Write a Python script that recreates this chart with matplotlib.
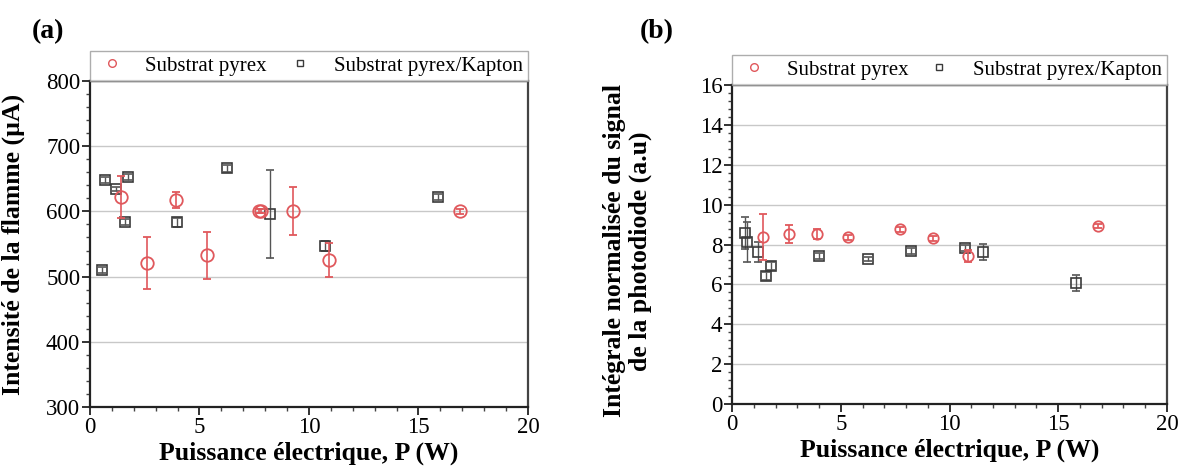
import matplotlib
matplotlib.use('Agg')
import matplotlib.pyplot as plt
from matplotlib.ticker import MultipleLocator
from matplotlib.lines import Line2D

plt.rcParams['font.family'] = ['Liberation Serif', 'DejaVu Serif']

RED = '#e0585c'
DARK = '#3a3a3a'

# (a) intensite de la flamme
pa_red = [1.40, 2.60, 3.93, 5.33, 7.70, 7.82, 9.25, 10.90, 16.90]
ia_red = [622, 521, 617, 533, 601, 601, 601, 526, 600]
ea_red = [32, 40, 12, 36, 3, 3, 37, 26, 4]

pa_blk = [0.56, 0.68, 1.19, 1.60, 1.75, 3.99, 6.24, 8.22, 10.73, 15.87]
ia_blk = [510, 648, 635, 584, 653, 583, 666, 596, 547, 622]
ea_blk = [4, 5, 3, 5, 5, 7, 5, 68, 8, 5]

# (b) integrale normalisee du signal de la photodiode
pb_red = [1.44, 2.61, 3.91, 5.32, 7.74, 9.23, 10.87, 16.81]
vb_red = [8.39, 8.51, 8.51, 8.36, 8.76, 8.31, 7.42, 8.93]
eb_red = [1.15, 0.45, 0.25, 0.12, 0.12, 0.12, 0.3, 0.12]

pb_blk = [0.60, 0.70, 1.21, 1.56, 1.78, 4.00, 6.24, 8.21, 10.71, 11.56, 15.82]
vb_blk = [8.56, 8.11, 7.61, 6.42, 6.92, 7.42, 7.26, 7.69, 7.84, 7.64, 6.08]
eb_blk = [0.8, 1.0, 0.5, 0.2, 0.2, 0.15, 0.1, 0.15, 0.15, 0.4, 0.4]

xlabel = 'Puissance électrique, P (W)'
legend_labels = ['Substrat pyrex', 'Substrat pyrex/Kapton']

fig = plt.figure(figsize=(11.79, 4.66), dpi=100)
ax_a = fig.add_axes([0.0763, 0.1266, 0.3715, 0.6996])
ax_b = fig.add_axes([0.6209, 0.1330, 0.3689, 0.6846])


def style_axes(ax, ylim, ymajor, yminor):
    ax.set_xlim(0, 20)
    ax.set_ylim(*ylim)
    ax.xaxis.set_major_locator(MultipleLocator(5))
    ax.xaxis.set_minor_locator(MultipleLocator(1))
    ax.yaxis.set_major_locator(MultipleLocator(ymajor))
    ax.yaxis.set_minor_locator(MultipleLocator(yminor))
    ax.grid(axis='y', which='major', color='#c8c8c8', lw=1)
    ax.set_axisbelow(True)
    ax.tick_params(which='major', direction='out', length=6, width=1.3,
                   labelsize=16.5, color='#222222', pad=1)
    ax.tick_params(which='minor', direction='out', length=3, width=1.0,
                   color='#444444')
    ax.tick_params(top=False, right=False, which='both')
    for s in ['left', 'bottom', 'top']:
        ax.spines[s].set_linewidth(1.6)
        ax.spines[s].set_color('#222222')
    ax.spines['right'].set_linewidth(1.6)
    ax.spines['right'].set_color('#444444')
    ax.set_xlabel(xlabel, fontsize=18.5, fontweight='bold', labelpad=3)


def add_legend(ax, height):
    handles = [
        Line2D([], [], ls='none', marker='o', ms=5.5, mfc='none', mec=RED, mew=1),
        Line2D([], [], ls='none', marker='s', ms=5, mfc='none', mec=DARK, mew=1),
    ]
    leg = ax.legend(handles, legend_labels, loc='lower left', ncol=2,
                    bbox_to_anchor=(0, 1, 1, height), mode='expand',
                    borderaxespad=0, frameon=True, fancybox=False,
                    fontsize=15, handletextpad=0.8, columnspacing=0.8,
                    borderpad=0.25, handlelength=1.6)
    leg.get_frame().set_edgecolor('#999999')
    leg.get_frame().set_linewidth(1.0)


# panel (a)
ax_a.errorbar(pa_blk, ia_blk, yerr=ea_blk, fmt='s', ms=7, mfc='none',
              mec=DARK, mew=1.2, ecolor='#555555', elinewidth=1, capsize=3,
              zorder=3)
ax_a.errorbar(pa_red, ia_red, yerr=ea_red, fmt='o', ms=9, mfc='none',
              mec=RED, mew=1.3, ecolor=RED, elinewidth=1.2, capsize=3,
              zorder=4)
style_axes(ax_a, (300, 800), 100, 20)
ax_a.set_ylabel('Intensité de la flamme (µA)', fontsize=18.5,
                fontweight='bold')
ax_a.yaxis.set_label_coords(-0.148, 0.5)
add_legend(ax_a, 0.095)

# panel (b)
ax_b.errorbar(pb_blk, vb_blk, yerr=eb_blk, fmt='s', ms=7, mfc='none',
              mec=DARK, mew=1.2, ecolor='#555555', elinewidth=1, capsize=3,
              zorder=3)
ax_b.errorbar(pb_red, vb_red, yerr=eb_red, fmt='o', ms=7.5, mfc='none',
              mec=RED, mew=1.3, ecolor=RED, elinewidth=1.2, capsize=3,
              zorder=4)
style_axes(ax_b, (0, 16), 2, 0.4)
ax_b.set_ylabel('Intégrale normalisée du signal\nde la photodiode (a.u)',
                fontsize=18.5, fontweight='bold', linespacing=1.15)
ax_b.yaxis.set_label_coords(-0.184, 0.48)
add_legend(ax_b, 0.094)

fig.text(0.027, 0.933, '(a)', fontsize=20, fontweight='bold', va='center')
fig.text(0.543, 0.933, '(b)', fontsize=20, fontweight='bold', va='center')

fig.savefig('out.png', dpi=100)
